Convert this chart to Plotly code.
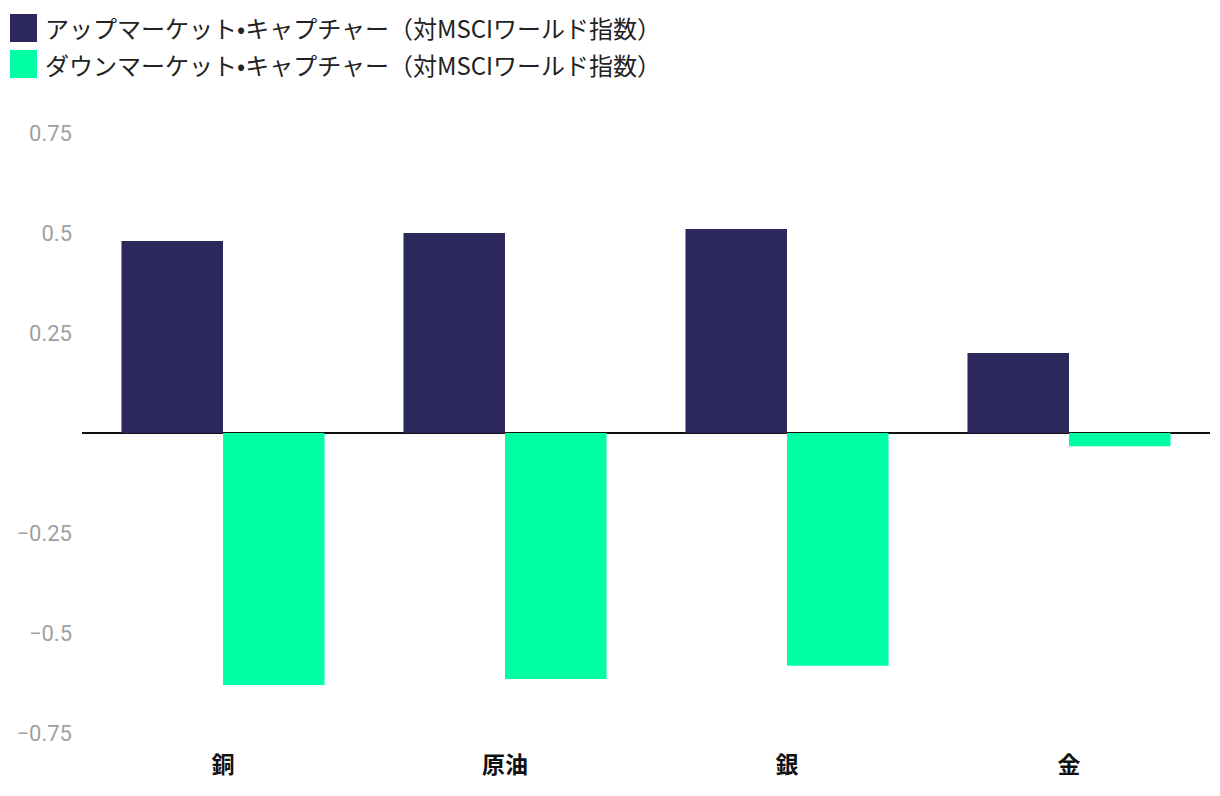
import plotly.graph_objects as go

categories = ["銅", "原油", "銀", "金"]
up_capture = [0.48, 0.50, 0.51, 0.20]
down_capture = [-0.63, -0.615, -0.582, -0.033]
series_names = ["アップマーケット•キャプチャー（対MSCIワールド指数）",
                "ダウンマーケット•キャプチャー（対MSCIワールド指数）"]
colors = ["#2C285B", "#00FFA4"]
y_ticks = [-0.75, -0.5, -0.25, 0.25, 0.5, 0.75]
y_tick_text = ["−0.75", "−0.5", "−0.25", "0.25", "0.5", "0.75"]

# page has 8px body margin
OFF = 8
W, H = 1212, 788
ml, mr, mt, mb = 82 - OFF, 10, 133 - OFF, 63

fig = go.Figure()
for name, vals, col in zip(series_names, [up_capture, down_capture], colors):
    fig.add_trace(go.Bar(x=categories, y=vals, name=name, marker=dict(color=col, line=dict(width=0)),
                         showlegend=False))

fig.update_layout(
    width=W, height=H,
    margin=dict(l=ml, r=mr, t=mt, b=mb),
    paper_bgcolor="white", plot_bgcolor="white",
    barmode="group", bargap=0.28, bargroupgap=0,
    font=dict(family="Roboto, 'Noto Sans CJK JP', sans-serif"),
)
fig.update_yaxes(range=[-0.75, 0.75], tickvals=y_ticks, ticktext=y_tick_text,
                 showgrid=False, zeroline=True, zerolinecolor="#111111", zerolinewidth=2,
                 showline=False, ticks="", ticklabelstandoff=9,
                 tickfont=dict(size=22, color="#a0a0a0", family="Roboto, sans-serif"))
fig.update_xaxes(showgrid=False, showline=False, ticks="", ticklabelstandoff=16,
                 tickfont=dict(size=23, color="#111111", family="'Noto Sans CJK JP', sans-serif", weight="bold"))

# custom legend (page coordinates minus body offset)
pw, ph = W - ml - mr, H - mt - mb
for i, (name, col) in enumerate(zip(series_names, colors)):
    y0 = 14 + i * 36 - OFF
    x0 = 10 - OFF
    fig.add_shape(type="rect", xref="paper", yref="paper",
                  x0=(x0 - ml) / pw, x1=(x0 + 27 - ml) / pw,
                  y0=1 + (mt - y0) / ph, y1=1 + (mt - (y0 + 28)) / ph,
                  fillcolor=col, line=dict(width=0))
    fig.add_annotation(xref="paper", yref="paper", x=(x0 + 33 - ml) / pw,
                       y=1 + (mt - (y0 + 14)) / ph, xanchor="left", yanchor="middle",
                       text=name, showarrow=False,
                       font=dict(size=24, color="#222222", family="'Noto Sans CJK JP', sans-serif"))

fig.write_html("out.html")
